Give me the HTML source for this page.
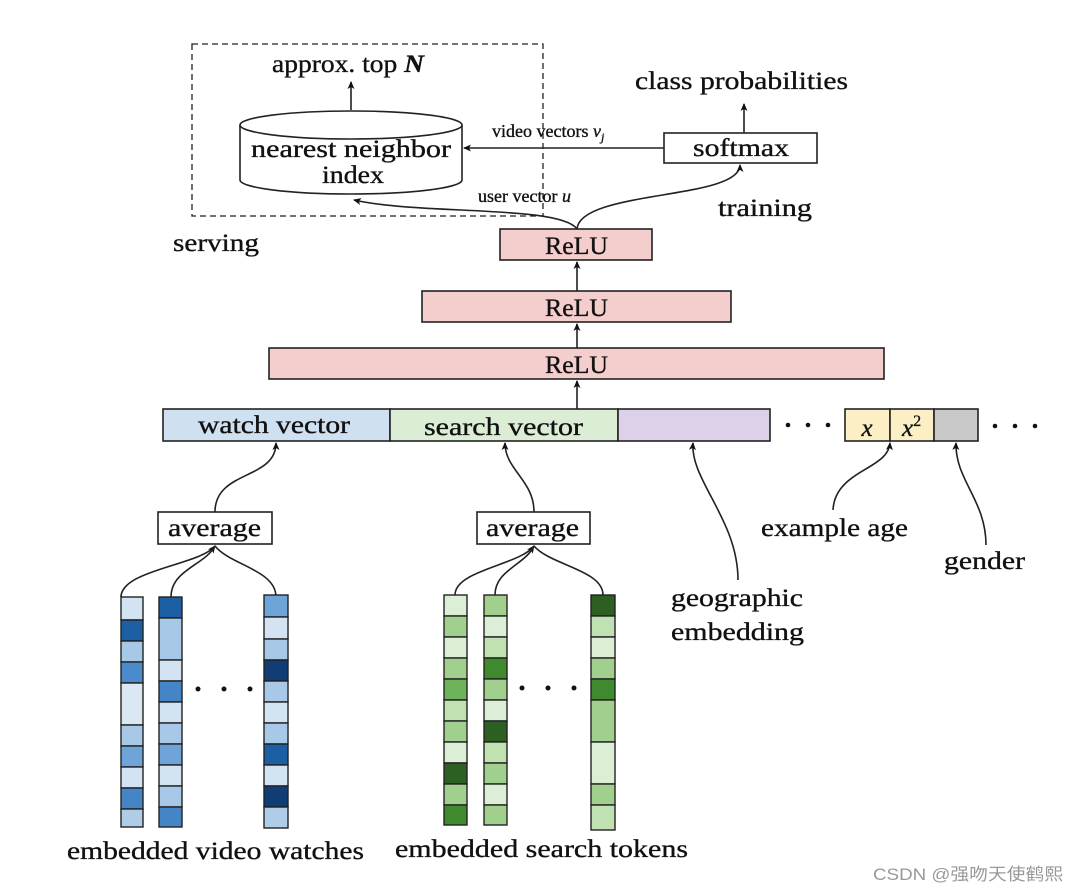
<!DOCTYPE html>
<html><head><meta charset="utf-8"><style>
html,body{margin:0;padding:0;background:#fff;}
svg{display:block;}
text{font-family:"Liberation Serif",serif;fill:#111;stroke:#111;stroke-width:0.35;}
</style></head><body>
<svg width="1080" height="893" viewBox="0 0 1080 893" xmlns="http://www.w3.org/2000/svg">
<defs>
<marker id="a" markerWidth="8" markerHeight="8" refX="7" refY="4" orient="auto" markerUnits="userSpaceOnUse">
<path d="M0,0.5 L8,4 L0,7.5 L2,4 Z" fill="#111"/></marker>
</defs>
<g stroke="#222" stroke-width="1.6" fill="none">
<rect x="192" y="44" width="351" height="172" stroke-dasharray="6,4" stroke-width="1.3"/>
<path d="M240,125 L240,180 A111,14 0 0 0 462,180 L462,125" fill="#fff"/>
<ellipse cx="351" cy="125" rx="111" ry="14" fill="#fff"/>
<line x1="351" y1="110" x2="351" y2="82" marker-end="url(#a)"/>
<rect x="664" y="133" width="153" height="30" fill="#fff"/>
<line x1="744" y1="133" x2="744" y2="104" marker-end="url(#a)"/>
<line x1="664" y1="148" x2="464" y2="148" marker-end="url(#a)"/>
<path d="M577,229 C560,205 420,215 354,200" marker-end="url(#a)"/>
<path d="M577,229 C580,190 740,200 740,165" marker-end="url(#a)"/>
<rect x="500" y="229" width="152" height="31" fill="#f4cdcd"/>
<rect x="422" y="291" width="309" height="31" fill="#f4cdcd"/>
<rect x="269" y="348" width="615" height="31" fill="#f4cdcd"/>
<line x1="577" y1="291" x2="577" y2="262" marker-end="url(#a)"/>
<line x1="577" y1="348" x2="577" y2="324" marker-end="url(#a)"/>
<line x1="577" y1="409" x2="577" y2="381" marker-end="url(#a)"/>
<rect x="163" y="409" width="227" height="32" fill="#cfe0f1"/>
<rect x="390" y="409" width="228" height="32" fill="#dbeed5"/>
<rect x="618" y="409" width="152" height="32" fill="#dcd1e8"/>
<rect x="845" y="409" width="45" height="32" fill="#fcefc6"/>
<rect x="890" y="409" width="44" height="32" fill="#fcefc6"/>
<rect x="934" y="409" width="44" height="32" fill="#c8c8c8"/>
<rect x="158" y="512" width="114" height="32" fill="#fff"/>
<rect x="477" y="512" width="113" height="32" fill="#fff"/>
<path d="M215,512 C215,470 276,480 276,443" marker-end="url(#a)"/>
<path d="M534,512 C534,480 505,470 505,443" marker-end="url(#a)"/>
<path d="M121,597 C121,570 200,565 215,546" marker-end="url(#a)"/>
<path d="M171,597 C171,570 205,565 215,546"/>
<path d="M276,597 C276,570 230,565 215,546"/>
<path d="M455,595 C455,570 520,565 534,546" marker-end="url(#a)"/>
<path d="M495,595 C495,570 525,565 534,546"/>
<path d="M603,595 C603,570 550,565 534,546"/>
<path d="M738,580 C738,520 690,480 693,443" marker-end="url(#a)"/>
<path d="M833,510 C835,470 888,470 890,443" marker-end="url(#a)"/>
<path d="M986,545 C986,500 955,480 956,443" marker-end="url(#a)"/>
</g>
<g fill="#111">
<circle cx="788" cy="425" r="2.3"/><circle cx="808" cy="425" r="2.3"/><circle cx="828" cy="425" r="2.3"/>
<circle cx="995" cy="426" r="2.3"/><circle cx="1015" cy="426" r="2.3"/><circle cx="1035" cy="426" r="2.3"/>
<circle cx="198" cy="689" r="2.5"/><circle cx="224" cy="689" r="2.5"/><circle cx="250" cy="689" r="2.5"/>
<circle cx="522" cy="688" r="2.5"/><circle cx="548" cy="688" r="2.5"/><circle cx="574" cy="688" r="2.5"/>
</g>
<g stroke="#222" stroke-width="1.4">
<g>
<rect x="121" y="597" width="22" height="23" fill="#d3e3f2"/>
<rect x="121" y="620" width="22" height="21" fill="#1c5fa3"/>
<rect x="121" y="641" width="22" height="21" fill="#a7c8e6"/>
<rect x="121" y="662" width="22" height="21" fill="#4a8ccb"/>
<rect x="121" y="683" width="22" height="42" fill="#dbe8f4"/>
<rect x="121" y="725" width="22" height="21" fill="#a7c8e6"/>
<rect x="121" y="746" width="22" height="21" fill="#6ea4d8"/>
<rect x="121" y="767" width="22" height="21" fill="#d3e3f2"/>
<rect x="121" y="788" width="22" height="21" fill="#4585c6"/>
<rect x="121" y="809" width="22" height="18" fill="#b0cde8"/>
</g>
<g>
<rect x="159" y="597" width="23" height="21" fill="#1c5fa3"/>
<rect x="159" y="618" width="23" height="42" fill="#a7c8e6"/>
<rect x="159" y="660" width="23" height="21" fill="#d3e3f2"/>
<rect x="159" y="681" width="23" height="21" fill="#4585c6"/>
<rect x="159" y="702" width="23" height="21" fill="#d3e3f2"/>
<rect x="159" y="723" width="23" height="21" fill="#a7c8e6"/>
<rect x="159" y="744" width="23" height="21" fill="#6ea4d8"/>
<rect x="159" y="765" width="23" height="21" fill="#d3e3f2"/>
<rect x="159" y="786" width="23" height="21" fill="#a7c8e6"/>
<rect x="159" y="807" width="23" height="20" fill="#4585c6"/>
</g>
<g>
<rect x="264" y="595" width="24" height="22" fill="#6ea4d8"/>
<rect x="264" y="617" width="24" height="22" fill="#d3e3f2"/>
<rect x="264" y="639" width="24" height="21" fill="#a7c8e6"/>
<rect x="264" y="660" width="24" height="21" fill="#103e74"/>
<rect x="264" y="681" width="24" height="21" fill="#a7c8e6"/>
<rect x="264" y="702" width="24" height="21" fill="#d3e3f2"/>
<rect x="264" y="723" width="24" height="21" fill="#a7c8e6"/>
<rect x="264" y="744" width="24" height="21" fill="#1c5fa3"/>
<rect x="264" y="765" width="24" height="21" fill="#d3e3f2"/>
<rect x="264" y="786" width="24" height="21" fill="#103e74"/>
<rect x="264" y="807" width="24" height="21" fill="#b0cde8"/>
</g>
<g>
<rect x="444" y="595" width="23" height="21" fill="#dcefd6"/>
<rect x="444" y="616" width="23" height="21" fill="#a1d08e"/>
<rect x="444" y="637" width="23" height="21" fill="#dcefd6"/>
<rect x="444" y="658" width="23" height="21" fill="#a1d08e"/>
<rect x="444" y="679" width="23" height="21" fill="#6db35a"/>
<rect x="444" y="700" width="23" height="21" fill="#c0e1b2"/>
<rect x="444" y="721" width="23" height="21" fill="#a1d08e"/>
<rect x="444" y="742" width="23" height="21" fill="#dcefd6"/>
<rect x="444" y="763" width="23" height="21" fill="#2d5f22"/>
<rect x="444" y="784" width="23" height="21" fill="#a1d08e"/>
<rect x="444" y="805" width="23" height="20" fill="#3f8a2f"/>
</g>
<g>
<rect x="484" y="595" width="23" height="21" fill="#a1d08e"/>
<rect x="484" y="616" width="23" height="21" fill="#dcefd6"/>
<rect x="484" y="637" width="23" height="21" fill="#c0e1b2"/>
<rect x="484" y="658" width="23" height="21" fill="#3f8a2f"/>
<rect x="484" y="679" width="23" height="21" fill="#a1d08e"/>
<rect x="484" y="700" width="23" height="21" fill="#dcefd6"/>
<rect x="484" y="721" width="23" height="21" fill="#2d5f22"/>
<rect x="484" y="742" width="23" height="21" fill="#c0e1b2"/>
<rect x="484" y="763" width="23" height="21" fill="#a1d08e"/>
<rect x="484" y="784" width="23" height="21" fill="#dcefd6"/>
<rect x="484" y="805" width="23" height="20" fill="#a1d08e"/>
</g>
<g>
<rect x="591" y="595" width="24" height="21" fill="#2d5f22"/>
<rect x="591" y="616" width="24" height="21" fill="#c0e1b2"/>
<rect x="591" y="637" width="24" height="21" fill="#dcefd6"/>
<rect x="591" y="658" width="24" height="21" fill="#a1d08e"/>
<rect x="591" y="679" width="24" height="21" fill="#3f8a2f"/>
<rect x="591" y="700" width="24" height="42" fill="#a1d08e"/>
<rect x="591" y="742" width="24" height="42" fill="#dcefd6"/>
<rect x="591" y="784" width="24" height="21" fill="#a1d08e"/>
<rect x="591" y="805" width="24" height="25" fill="#c0e1b2"/>
</g>
</g>
<g font-size="25" lengthAdjust="spacingAndGlyphs">
<text x="272" y="72" textLength="152" lengthAdjust="spacingAndGlyphs">approx. top <tspan font-weight="bold" font-style="italic">N</tspan></text>
<text x="251" y="157" textLength="200" lengthAdjust="spacingAndGlyphs">nearest neighbor</text>
<text x="322" y="183" textLength="62" lengthAdjust="spacingAndGlyphs">index</text>
<text x="635" y="89" textLength="213" lengthAdjust="spacingAndGlyphs">class probabilities</text>
<text x="693" y="156" textLength="96" lengthAdjust="spacingAndGlyphs">softmax</text>
<text x="718" y="216" textLength="94" lengthAdjust="spacingAndGlyphs">training</text>
<text x="173" y="251" textLength="86" lengthAdjust="spacingAndGlyphs">serving</text>
<text x="545" y="254" textLength="63" lengthAdjust="spacingAndGlyphs">ReLU</text>
<text x="545" y="316" textLength="63" lengthAdjust="spacingAndGlyphs">ReLU</text>
<text x="545" y="373" textLength="63" lengthAdjust="spacingAndGlyphs">ReLU</text>
<text x="198" y="433" textLength="152" lengthAdjust="spacingAndGlyphs">watch vector</text>
<text x="424" y="435" textLength="159" lengthAdjust="spacingAndGlyphs">search vector</text>
<text x="867" y="436" text-anchor="middle" font-style="italic">x</text>
<text x="902" y="436" font-style="italic">x<tspan font-size="16" dy="-10" font-style="normal">2</tspan></text>
<text x="168" y="536" textLength="93" lengthAdjust="spacingAndGlyphs">average</text>
<text x="486" y="536" textLength="93" lengthAdjust="spacingAndGlyphs">average</text>
<text x="761" y="536" textLength="147" lengthAdjust="spacingAndGlyphs">example age</text>
<text x="944" y="569" textLength="81" lengthAdjust="spacingAndGlyphs">gender</text>
<text x="671" y="606" textLength="132" lengthAdjust="spacingAndGlyphs">geographic</text>
<text x="671" y="640" textLength="133" lengthAdjust="spacingAndGlyphs">embedding</text>
<text x="67" y="859" textLength="297" lengthAdjust="spacingAndGlyphs">embedded video watches</text>
<text x="395" y="857" textLength="293" lengthAdjust="spacingAndGlyphs">embedded search tokens</text>
</g>
<g font-size="18">
<text x="492" y="137">video vectors <tspan font-style="italic">v<tspan font-size="12" dy="4">j</tspan></tspan></text>
<text x="478" y="202">user vector <tspan font-style="italic">u</tspan></text>
</g>
<text x="873" y="880" font-size="17" textLength="190" lengthAdjust="spacingAndGlyphs" style="font-family:'Liberation Sans','Noto Sans CJK SC',sans-serif;fill:#999;stroke:none">CSDN @强吻天使鹤熙</text>
</svg>
</body></html>
